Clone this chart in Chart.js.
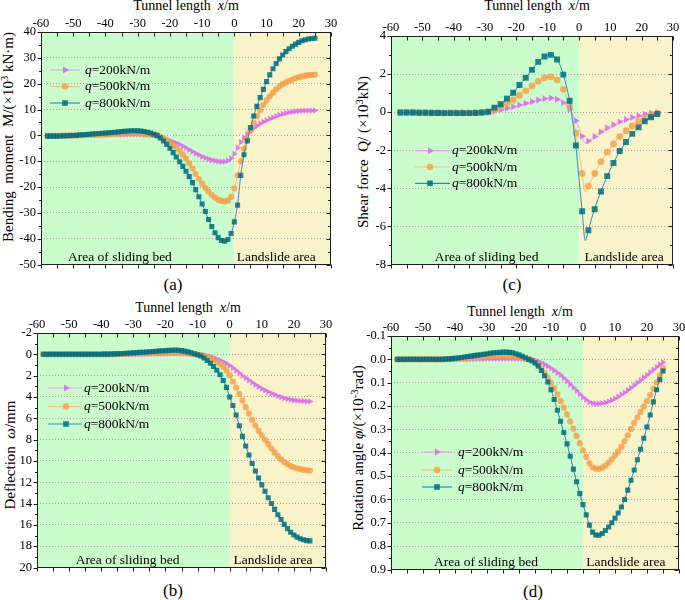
<!DOCTYPE html>
<html><head><meta charset="utf-8">
<script src="https://cdn.jsdelivr.net/npm/chart.js@4.4.1/dist/chart.umd.min.js"></script>
<style>
html,body{margin:0;padding:0;overflow:hidden;background:#fff;}
#wrap{position:relative;width:685px;height:600px;overflow:hidden;font-family:"Liberation Serif","Times New Roman",serif;color:#000;}
canvas{position:absolute;}
.t{position:absolute;white-space:nowrap;font-size:14px;line-height:14px;transform:translateX(-50%);}
.yt{position:absolute;white-space:nowrap;font-size:15px;line-height:15px;transform:translate(-50%,-50%) rotate(-90deg);}
.sub{position:absolute;font-size:17px;line-height:17px;white-space:nowrap;transform:translate(-50%,-50%);}
sup{font-size:70%;line-height:0;vertical-align:0.45em;}
</style></head>
<body><div id="wrap">
<div class="t" style="left:186px;top:-1px;">Tunnel length&nbsp; <i>x</i>/m</div>
<div class="t" style="left:537px;top:-1px;">Tunnel length&nbsp; <i>x</i>/m</div>
<div class="t" style="left:188px;top:301px;">Tunnel length&nbsp; <i>x</i>/m</div>
<div class="t" style="left:520px;top:305px;">Tunnel length&nbsp; <i>x</i>/m</div>
<div class="yt" style="left:8px;top:137px;">Bending&nbsp; moment&nbsp; M/(×10<sup>3</sup> kN·m)</div>
<div class="yt" style="left:363px;top:152px;">Shear force&nbsp; Q/ (×10<sup>3</sup>kN)</div>
<div class="yt" style="left:10px;top:455px;">Deflection&nbsp; <i>ω</i>/mm</div>
<div class="yt" style="left:358px;top:448px;">Rotation angle <i>φ</i>/(×10<sup>-3</sup>rad)</div>
<div class="sub" style="left:173px;top:284px;">(a)</div>
<div class="sub" style="left:512px;top:284px;">(c)</div>
<div class="sub" style="left:173px;top:590px;">(b)</div>
<div class="sub" style="left:533px;top:591px;">(d)</div>
</div>
<script>
// ---------------- DATA ----------------
const xDense = [-58,-57,-56,-55,-54,-53,-52,-51,-50,-49,-48,-47,-46,-45,-44,-43,-42,-41,-40,-39,-38,-37,-36,-35,-34,-33,-32,-31,-30,-29,-28,-27,-26,-25,-24,-23,-22,-21,-20,-19,-18,-17,-16,-15,-14,-13,-12,-11,-10,-9,-8,-7,-6,-5,-4,-3,-2,-1,0,1,2,3,4,5,6,7,8,9,10,11,12,13,14,15,16,17,18,19,20,21,22,23,24,25];
const seriesNames = ['q=200kN/m','q=500kN/m','q=800kN/m'];
const xTicks = [-60,-50,-40,-30,-20,-10,0,10,20,30];
const regionBoundary = 0;
const regionLabels = ['Area of sliding bed','Landslide area'];

// (a) Bending moment M (x10^3 kN·m)
const M200 = [-0.1,-0.1,-0.1,-0.1,-0.1,-0.05,-0.05,-0.05,0,0,
0,0.05,0.05,0.1,0.1,0.15,0.15,0.2,0.2,0.25,
0.25,0.3,0.3,0.3,0.35,0.35,0.35,0.35,0.35,0.3,
0.25,0.2,0.1,0,-0.3,-0.7,-1.1,-1.5,-2.0,-2.5,
-3.0,-3.5,-4.2,-4.9,-5.6,-6.3,-7.0,-7.6,-8.2,-8.7,
-9.2,-9.6,-9.9,-10.1,-10.2,-10.2,-9.8,-8.9,-7.2,-4.8,
-2.6,-0.9,0.5,1.7,2.8,3.7,4.5,5.2,5.8,6.4,
6.9,7.4,7.9,8.3,8.6,8.9,9.1,9.3,9.4,9.5,
9.55,9.6,9.6,9.6];
const M500 = [-0.2,-0.2,-0.2,-0.2,-0.15,-0.1,-0.1,-0.05,0,0,
0.05,0.1,0.15,0.2,0.25,0.3,0.35,0.4,0.45,0.5,
0.55,0.6,0.65,0.7,0.75,0.8,0.8,0.85,0.85,0.8,
0.7,0.55,0.4,0.2,0,-0.5,-1.2,-2.0,-2.9,-3.8,
-4.9,-6.0,-7.4,-9.0,-10.8,-12.8,-14.9,-16.9,-18.7,-20.3,
-21.7,-23.0,-24.1,-24.9,-25.4,-25.6,-25.2,-23.8,-20.5,-15.5,
-10.0,-5.2,-1.5,1.8,4.8,7.4,9.7,11.8,13.6,15.1,
16.5,17.8,18.9,19.8,20.5,21.1,21.6,22.1,22.5,22.8,
23.1,23.3,23.4,23.5];
const M800 = [-0.3,-0.3,-0.3,-0.3,-0.25,-0.2,-0.15,-0.1,-0.05,0,
0.1,0.2,0.3,0.4,0.5,0.6,0.7,0.8,0.9,1.0,
1.1,1.2,1.35,1.5,1.6,1.7,1.75,1.8,1.8,1.7,
1.5,1.2,0.9,0.4,0,-1.0,-2.2,-3.5,-5.0,-6.7,
-8.4,-10.2,-12.0,-13.9,-16.0,-18.3,-21.0,-23.8,-26.6,-29.5,
-32.6,-35.3,-37.7,-39.6,-40.7,-41.0,-40.3,-38.0,-33.5,-27.0,
-15.5,-7.5,-2.2,3.0,7.5,11.2,14.6,17.8,20.8,23.4,
25.8,27.8,29.6,31.1,32.4,33.5,34.5,35.3,36.0,36.6,
37.0,37.3,37.5,37.6];
const yTicksM = [40,30,20,10,0,-10,-20,-30,-40,-50];

// (c) Shear force Q (x10^3 kN)
const Q200 = [-0.01,-0.01,-0.01,-0.01,-0.01,-0.01,-0.01,-0.01,-0.01,-0.01,
-0.01,-0.01,-0.02,-0.02,-0.02,-0.02,-0.02,-0.02,-0.02,-0.02,
-0.02,-0.02,-0.02,-0.02,-0.02,-0.02,-0.02,-0.01,-0.01,0,
0.03,0.05,0.08,0.12,0.16,0.2,0.24,0.28,0.32,0.37,
0.41,0.46,0.5,0.55,0.6,0.64,0.68,0.71,0.73,0.74,
0.72,0.68,0.6,0.5,0.35,0.15,-0.12,-0.45,-0.85,-1.27,
-1.63,-1.52,-1.4,-1.28,-1.16,-1.04,-0.93,-0.83,-0.74,-0.66,
-0.58,-0.51,-0.45,-0.39,-0.33,-0.28,-0.23,-0.19,-0.15,-0.11,
-0.08,-0.05,-0.03,-0.01];
const Q500 = [-0.02,-0.02,-0.02,-0.02,-0.02,-0.02,-0.03,-0.03,-0.03,-0.03,
-0.03,-0.03,-0.03,-0.03,-0.04,-0.04,-0.04,-0.04,-0.04,-0.04,
-0.04,-0.04,-0.04,-0.04,-0.04,-0.03,-0.03,-0.02,-0.01,0,
0.07,0.14,0.21,0.28,0.36,0.45,0.54,0.64,0.76,0.88,
1.0,1.12,1.25,1.38,1.5,1.62,1.72,1.8,1.85,1.86,
1.82,1.7,1.5,1.2,0.8,0.3,-0.35,-1.1,-2.1,-3.22,
-4.18,-3.88,-3.55,-3.22,-2.9,-2.6,-2.34,-2.1,-1.88,-1.67,
-1.47,-1.28,-1.12,-0.97,-0.84,-0.72,-0.6,-0.5,-0.4,-0.32,
-0.24,-0.17,-0.12,-0.07];
const Q800 = [-0.02,-0.02,-0.02,-0.02,-0.02,-0.02,-0.03,-0.03,-0.03,-0.03,
-0.04,-0.04,-0.04,-0.04,-0.05,-0.05,-0.05,-0.05,-0.05,-0.05,
-0.05,-0.05,-0.05,-0.05,-0.05,-0.04,-0.03,-0.02,-0.01,0.02,
0.12,0.24,0.33,0.42,0.56,0.71,0.86,1.02,1.22,1.43,
1.62,1.8,2.02,2.22,2.44,2.64,2.8,2.92,2.99,3.01,
2.95,2.77,2.45,1.97,1.35,0.6,-0.5,-1.75,-3.5,-5.2,
-6.75,-6.2,-5.6,-5.1,-4.6,-4.17,-3.75,-3.36,-3.0,-2.67,
-2.35,-2.04,-1.8,-1.57,-1.35,-1.14,-0.96,-0.8,-0.63,-0.48,
-0.37,-0.27,-0.18,-0.1];
const yTicksQ = [4,2,0,-2,-4,-6,-8];

// (b) Deflection w (mm)
const D200 = [0,0,0,0,0,0,0,0,0,0,
0,0,0,0,0,0,0,0,0,0,
0,0,0,0,0,0,0,0,0,-0.01,
-0.01,-0.02,-0.02,-0.03,-0.03,-0.04,-0.04,-0.05,-0.05,-0.05,
-0.06,-0.06,-0.06,-0.06,-0.05,-0.05,-0.04,-0.02,0,0.04,
0.08,0.14,0.21,0.3,0.42,0.55,0.7,0.87,1.06,1.28,
1.52,1.76,2.0,2.22,2.44,2.64,2.85,3.04,3.22,3.38,
3.53,3.66,3.79,3.91,4.02,4.11,4.19,4.25,4.31,4.35,
4.38,4.4,4.41,4.42];
const D500 = [0,0,0,0,0,0,0,0,0,0,
0,0,0,0,0,0,0,0,0,0,
0,0,0,-0.02,-0.03,-0.04,-0.05,-0.06,-0.07,-0.08,
-0.09,-0.1,-0.11,-0.12,-0.13,-0.14,-0.15,-0.16,-0.17,-0.18,
-0.18,-0.18,-0.17,-0.15,-0.12,-0.09,-0.05,-0.02,0.02,0.08,
0.15,0.25,0.37,0.51,0.68,0.89,1.16,1.52,1.98,2.55,
3.12,3.72,4.34,4.96,5.56,6.14,6.68,7.16,7.6,8.02,
8.42,8.82,9.2,9.55,9.85,10.1,10.3,10.48,10.6,10.7,
10.78,10.84,10.88,10.9];
const D800 = [0,0,0,0,0,0,0,0,0,0,
0,0,0,0,0,0,0,0,-0.01,-0.02,
-0.02,-0.03,-0.04,-0.05,-0.06,-0.08,-0.1,-0.12,-0.14,-0.16,
-0.18,-0.2,-0.22,-0.24,-0.27,-0.29,-0.31,-0.33,-0.35,-0.37,
-0.38,-0.39,-0.38,-0.35,-0.3,-0.23,-0.15,-0.06,0.04,0.16,
0.35,0.58,0.84,1.15,1.5,1.92,2.45,3.1,4.0,4.8,
5.7,6.7,7.7,8.6,9.45,10.25,10.95,11.6,12.25,12.85,
13.45,14.0,14.55,15.05,15.5,15.95,16.35,16.7,16.95,17.15,
17.3,17.4,17.48,17.5];
const yTicksD = [-2,0,2,4,6,8,10,12,14,16,18,20];

// (d) Rotation angle phi (x10^-3 rad)
const R200 = [0,0,0,0,0,0,0,0,0,0,
0,0,0,0,0,0,0,0,0,0,
0,0,0,-0.001,-0.001,-0.002,-0.002,-0.002,-0.003,-0.003,
-0.003,-0.003,-0.003,-0.003,-0.003,-0.003,-0.003,-0.003,-0.003,-0.003,
-0.002,-0.001,0,0.004,0.009,0.015,0.022,0.03,0.038,0.047,
0.057,0.068,0.08,0.093,0.107,0.121,0.135,0.149,0.163,0.174,
0.183,0.188,0.19,0.19,0.188,0.185,0.18,0.175,0.168,0.16,
0.151,0.142,0.132,0.122,0.111,0.1,0.089,0.078,0.067,0.055,
0.044,0.033,0.022,0.012];
const R500 = [0,0,0,0,0,0,0,0,0,0,
0,0,0,0,0,-0.001,-0.001,-0.002,-0.003,-0.004,
-0.005,-0.006,-0.007,-0.008,-0.009,-0.01,-0.011,-0.012,-0.013,-0.014,
-0.015,-0.015,-0.016,-0.016,-0.016,-0.015,-0.014,-0.012,-0.009,-0.006,
-0.003,0,0.005,0.013,0.025,0.04,0.058,0.078,0.1,0.124,
0.15,0.178,0.206,0.236,0.266,0.297,0.328,0.359,0.39,0.418,
0.445,0.462,0.468,0.469,0.464,0.455,0.442,0.428,0.411,0.394,
0.374,0.35,0.325,0.298,0.272,0.248,0.225,0.202,0.178,0.152,
0.126,0.098,0.068,0.037];
const R800 = [0,0,0,0,0,0,0,0,0,0,
0,0,0,0,0,-0.001,-0.002,-0.003,-0.005,-0.006,
-0.008,-0.01,-0.012,-0.014,-0.016,-0.018,-0.02,-0.022,-0.024,-0.026,
-0.028,-0.029,-0.03,-0.031,-0.031,-0.03,-0.028,-0.024,-0.019,-0.013,
-0.007,0,0.006,0.015,0.028,0.048,0.07,0.097,0.13,0.172,
0.218,0.265,0.313,0.362,0.415,0.47,0.524,0.575,0.622,0.666,
0.71,0.74,0.752,0.753,0.746,0.733,0.718,0.7,0.68,0.658,
0.632,0.6,0.56,0.518,0.474,0.43,0.385,0.338,0.29,0.238,
0.182,0.13,0.087,0.05];
const yTicksR = [-0.1,0.0,0.1,0.2,0.3,0.4,0.5,0.6,0.7,0.8,0.9];

// ---------------- STYLE ----------------
const GREEN = '#cbfccb', YELLOW = '#f9f3ca';
const styles = [
  {marker:'rgba(220,105,236,0.85)', line:'#ec9ef4', pointStyle:'triangle', rotation:90},
  {marker:'rgba(245,158,66,0.78)', line:'#f7be88', pointStyle:'circle', rotation:0},
  {marker:'rgba(0,110,128,0.85)', line:'#2c8dbd', pointStyle:'rect', rotation:0}
];
const FONT = '"Liberation Serif", serif';

const bgPlugin = {
  id:'bgRegions',
  beforeDraw(chart){
    const {ctx, chartArea:a, scales:{x}} = chart;
    const x0 = x.getPixelForValue(regionBoundary);
    ctx.save();
    ctx.fillStyle = GREEN; ctx.fillRect(a.left, a.top, x0 - a.left, a.bottom - a.top);
    ctx.fillStyle = YELLOW; ctx.fillRect(x0, a.top, a.right - x0, a.bottom - a.top);
    ctx.restore();
  },
  beforeDatasetsDraw(chart, args, o){
    const {ctx, chartArea:a, scales:{x}} = chart;
    ctx.save();
    ctx.font = '13.5px ' + FONT; ctx.fillStyle = '#000';
    ctx.textAlign = 'center'; ctx.textBaseline = 'alphabetic';
    ctx.fillText(regionLabels[0], x.getPixelForValue(o.leftAt), a.bottom - 4);
    ctx.fillText(regionLabels[1], x.getPixelForValue(o.rightAt), a.bottom - 4);
    ctx.restore();
  }
};

function mids(arr){ const m=[]; for(let i=0;i<arr.length-1;i++) m.push((arr[i]+arr[i+1])/2); return m; }

const framePlugin = {
  id:'frame',
  afterDraw(chart, args, o){
    const {ctx, chartArea:a, scales:{x,y}} = chart;
    const L=Math.round(a.left)+0.5, R=Math.round(a.right)-0.5, T=Math.round(a.top)+0.5, B=Math.round(a.bottom)-0.5;
    ctx.save(); ctx.strokeStyle='#1e1e1e'; ctx.lineWidth=1;
    ctx.beginPath();
    const xs = xTicks.concat(mids(xTicks));
    xs.forEach(v=>{ const p=Math.round(x.getPixelForValue(v))+0.5;
      ctx.moveTo(p,B); ctx.lineTo(p,B+4); ctx.moveTo(p,T); ctx.lineTo(p,T+4); });
    o.yTicks.forEach(v=>{ const p=Math.round(y.getPixelForValue(v))+0.5;
      ctx.moveTo(L,p); ctx.lineTo(L-4,p); ctx.moveTo(R,p); ctx.lineTo(R-4,p); });
    mids(o.yTicks).forEach(v=>{ const p=Math.round(y.getPixelForValue(v))+0.5;
      ctx.moveTo(L,p); ctx.lineTo(L-2.5,p); ctx.moveTo(R,p); ctx.lineTo(R-2.5,p); });
    ctx.stroke();
    ctx.strokeRect(L,T,R-L,B-T);
    ctx.restore();
    // legend
    const lg = o.legend;
    ctx.save();
    seriesNames.forEach((name,i)=>{
      const st = styles[i];
      const yy = lg.rows[i] - o.offTop;
      const x1 = lg.line[0]-o.offLeft, x2 = lg.line[1]-o.offLeft, mx = lg.marker-o.offLeft, tx = lg.text-o.offLeft;
      ctx.strokeStyle = st.line; ctx.lineWidth = 1.2;
      ctx.beginPath(); ctx.moveTo(x1,yy); ctx.lineTo(x2,yy); ctx.stroke();
      ctx.fillStyle = st.marker;
      Chart.helpers.drawPoint(ctx,{pointStyle:st.pointStyle, radius:lg.r[i], rotation:st.rotation, borderWidth:0}, mx, yy);
      ctx.fillStyle = '#000'; ctx.textBaseline = 'middle'; ctx.textAlign='left';
      ctx.font = 'italic 13.5px ' + FONT;
      ctx.fillText('q', tx, yy);
      const w = ctx.measureText('q').width;
      ctx.font = '13.5px ' + FONT;
      ctx.fillText(name.slice(1), tx + w, yy);
    });
    ctx.restore();
  }
};

const charts = [];
function makeChart(cfg){
  const wrap = document.getElementById('wrap');
  const c = document.createElement('canvas');
  const left = cfg.area[0]-40, top = cfg.area[1]-30;
  const w = cfg.area[2]-cfg.area[0]+50, h = cfg.area[3]-cfg.area[1]+40;
  c.width = w; c.height = h;
  c.style.left = left+'px'; c.style.top = top+'px'; c.style.width = w+'px'; c.style.height = h+'px';
  wrap.appendChild(c);
  const order = [3,2,1];
  const datasets = cfg.series.map((ys,i)=>({
    label: seriesNames[i],
    data: xDense.map((xv,j)=>({x:xv, y:ys[j]})),
    borderColor: styles[i].line, borderWidth: 1,
    backgroundColor: styles[i].marker,
    pointBackgroundColor: styles[i].marker, pointBorderWidth: 0,
    pointStyle: styles[i].pointStyle, pointRotation: styles[i].rotation,
    pointRadius: cfg.everyOther ? (ctx => (ctx.dataIndex % 2 === 1 ? cfg.r[i] : 0)) : cfg.r[i],
    cubicInterpolationMode: 'monotone',
    order: order[i]
  }));
  charts.push(new Chart(c, {
    type:'line',
    data:{datasets},
    options:{
      responsive:false, animation:false, events:[],
      layout:{padding:{left:0,top:0,right:10,bottom:10}},
      plugins:{legend:{display:false}, tooltip:{enabled:false},
        bgRegions:{leftAt:cfg.labelsAt[0], rightAt:cfg.labelsAt[1]},
        frame:{yTicks:cfg.yTicks, legend:cfg.legend, offLeft:left, offTop:top}},
      scales:{
        x:{type:'linear', position:'top', min:-60, max:30,
           afterBuildTicks:s=>{ s.ticks = xTicks.map(v=>({value:v})); },
           ticks:{font:{family:FONT,size:12.5}, color:'#000', padding:1, maxRotation:0, autoSkip:false, callback:v=>String(v)},
           grid:{display:false, drawTicks:false}, border:{display:false},
           afterFit:s=>{ s.height = 30; }},
        y:{type:'linear', position:'left', min:cfg.yMin, max:cfg.yMax, reverse:!!cfg.reverse,
           afterBuildTicks:s=>{ s.ticks = cfg.yTicks.map(v=>({value:v})); },
           ticks:{font:{family:FONT,size:12.5}, color:'#000', padding:5, autoSkip:false,
             callback:v=> cfg.dec ? Number(v).toFixed(cfg.dec) : String(Math.round(v))},
           grid:{color:'#a9a9a9', lineWidth:1, drawTicks:false},
           border:{display:false, dash:[1,2]},
           afterFit:s=>{ s.width = 40; }}
      }
    },
    plugins:[bgPlugin, framePlugin]
  }));
}

makeChart({area:[41,32,331,267], series:[M200,M500,M800], yMin:-50, yMax:40, yTicks:yTicksM,
  r:[3.6,3.1,3.6], labelsAt:[-35.5,13], everyOther:false,
  legend:{rows:[70,86.5,103], line:[50,80], marker:65, text:85, r:[4,3.3,4]}});
makeChart({area:[391,36,673,267], series:[Q200,Q500,Q800], yMin:-8, yMax:4, yTicks:yTicksQ,
  r:[4,3.4,4.2], labelsAt:[-29.5,14.4], everyOther:true,
  legend:{rows:[150.7,167,183.3], line:[415,450], marker:430, text:452, r:[4,3.3,4]}});
makeChart({area:[37,333,326,570], series:[D200,D500,D800], yMin:-2, yMax:20, reverse:true, yTicks:yTicksD,
  r:[3.6,3.1,3.6], labelsAt:[-31.8,13.5], everyOther:false,
  legend:{rows:[388,406.5,424], line:[48,82], marker:66, text:84, r:[4,3.3,4]}});
makeChart({area:[391,336,679,572], series:[R200,R500,R800], yMin:-0.1, yMax:0.9, reverse:true, yTicks:yTicksR, dec:1,
  r:[3.6,3.1,3.6], labelsAt:[-30.3,13.4], everyOther:false,
  legend:{rows:[452,470,487], line:[422,452], marker:437, text:458, r:[4,3.3,4]}});
</script>
</body></html>
